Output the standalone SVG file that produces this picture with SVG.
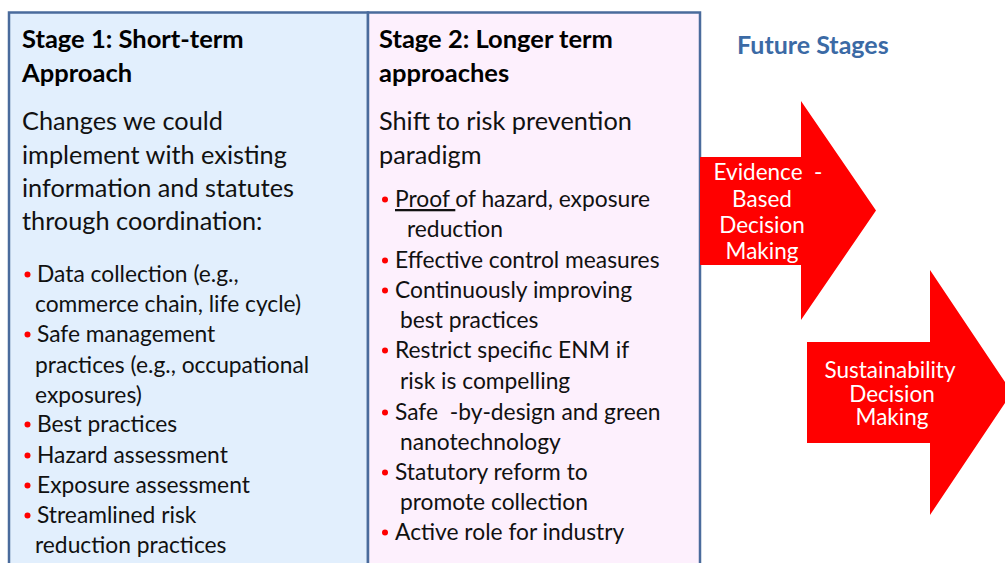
<svg xmlns="http://www.w3.org/2000/svg" width="1005" height="563" viewBox="0 0 1005 563">
<style>
.box{stroke:#4a6b9c;stroke-width:2.5}
.h{font-family:Lato,"Open Sans","Liberation Sans",sans-serif;font-weight:bold;font-size:25.5px;fill:#000}
.p{font-family:Lato,"Open Sans","Liberation Sans",sans-serif;font-size:25.3px;fill:#111}
.b{font-family:Lato,"Open Sans","Liberation Sans",sans-serif;font-size:22.8px;fill:#111}
.dot{fill:#ff0000}
.arrow{fill:#ff0000}
.at{font-family:Lato,"Open Sans","Liberation Sans",sans-serif;font-size:22.5px;fill:#fff;text-anchor:middle}
.fs{font-family:Lato,"Open Sans","Liberation Sans",sans-serif;font-weight:bold;font-size:25px;fill:#3b6aa5}
</style>
<defs>
<clipPath id="c1"><rect x="700" y="157" width="200" height="108"/></clipPath>
</defs>
<rect width="1005" height="563" fill="#fff"/>
<g id="stage1">
<rect class="box" x="9" y="12.5" width="359" height="560" fill="#e2effd"/>
<text class="h" x="22" y="48">Stage 1: Short-term</text>
<text class="h" x="22" y="82">Approach</text>
<text class="p" x="22" y="130">Changes we could</text>
<text class="p" x="22" y="164">implement with existing</text>
<text class="p" x="22" y="197">information and statutes</text>
<text class="p" x="22" y="230">through coordination:</text>
<g class="dot">
<circle cx="27.5" cy="274.5" r="3"/><circle cx="27.5" cy="334.5" r="3"/><circle cx="27.5" cy="424.5" r="3"/><circle cx="27.5" cy="455.5" r="3"/><circle cx="27.5" cy="485.5" r="3"/><circle cx="27.5" cy="515.5" r="3"/>
</g>
<text class="b" x="37" y="282">Data collection (e.g.,</text>
<text class="b" x="35" y="312">commerce chain, life cycle)</text>
<text class="b" x="37" y="342">Safe management</text>
<text class="b" x="35" y="373">practices (e.g., occupational</text>
<text class="b" x="35" y="403">exposures)</text>
<text class="b" x="37" y="432">Best practices</text>
<text class="b" x="37" y="463">Hazard assessment</text>
<text class="b" x="37" y="493">Exposure assessment</text>
<text class="b" x="37" y="523">Streamlined risk</text>
<text class="b" x="35" y="553">reduction practices</text>
</g>
<g id="stage2">
<rect class="box" x="368" y="12.5" width="332" height="560" fill="#fdf0fd"/>
<text class="h" x="379" y="48">Stage 2: Longer term</text>
<text class="h" x="379" y="82">approaches</text>
<text class="p" x="379" y="130">Shift to risk prevention</text>
<text class="p" x="379" y="164">paradigm</text>
<g class="dot">
<circle cx="385" cy="199.5" r="3"/><circle cx="385" cy="260.5" r="3"/><circle cx="385" cy="290.5" r="3"/><circle cx="385" cy="350.5" r="3"/><circle cx="385" cy="412.5" r="3"/><circle cx="385" cy="472.5" r="3"/><circle cx="385" cy="532.5" r="3"/>
</g>
<text class="b" x="395" y="207"><tspan text-decoration="underline">Proof </tspan> of hazard, exposure</text>
<text class="b" x="407" y="237">reduction</text>
<text class="b" x="395" y="268">Effective control measures</text>
<text class="b" x="395" y="298">Continuously improving</text>
<text class="b" x="400" y="328">best practices</text>
<text class="b" x="395" y="358">Restrict specific ENM if</text>
<text class="b" x="400" y="389">risk is compelling</text>
<text class="b" x="395" y="420" xml:space="preserve">Safe  -by-design and green</text>
<text class="b" x="400" y="450">nanotechnology</text>
<text class="b" x="395" y="480">Statutory reform to</text>
<text class="b" x="400" y="510">promote collection</text>
<text class="b" x="395" y="540">Active role for industry</text>
</g>
<g id="future">
<text class="fs" x="737" y="54">Future Stages</text>
</g>
<g id="evidence">
<polygon class="arrow" points="700,157 801,157 801,101 876,210.5 801,320 801,265 700,265"/>
<g clip-path="url(#c1)">
<text class="at" x="768" y="180" xml:space="preserve">Evidence  -</text>
<text class="at" x="762" y="207">Based</text>
<text class="at" x="762" y="233">Decision</text>
<text class="at" x="762" y="259">Making</text>
</g>
</g>
<g id="sustainability">
<polygon class="arrow" points="807,342 930,342 930,270 1012,392.5 930,515 930,443 807,443"/>
<text class="at" x="890" y="378">Sustainability</text>
<text class="at" x="892" y="402">Decision</text>
<text class="at" x="892" y="425">Making</text>
</g>
</svg>
